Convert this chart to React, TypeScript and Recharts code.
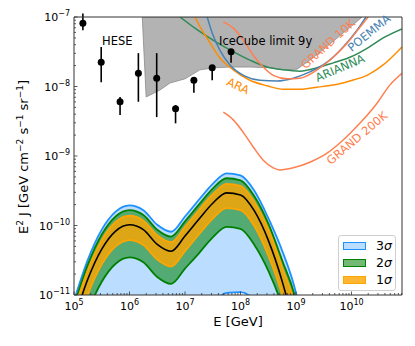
import React from "react";
import {
  ComposedChart,
  XAxis,
  YAxis,
  Area,
  Line,
  Scatter,
  ErrorBar,
  ReferenceLine,
  Legend,
} from "recharts";

// all values are log10: x = log10(E / GeV), y = log10(E^2 J / GeV cm^-2 s^-1 sr^-1)
const X_MIN = 5;
const X_MAX = 10.91;
const Y_MIN = -11;
const Y_MAX = -7;
const X_MAJOR = [5, 6, 7, 8, 9, 10];
const Y_MAJOR = [-11, -10, -9, -8, -7];
const MINOR_MULT = [2, 3, 4, 5, 6, 7, 8, 9];

// fitted model and its bands
const MODEL_LOG_E = [5.0, 5.25, 5.5, 5.75, 6.0, 6.25, 6.5, 6.75, 7.0, 7.25, 7.5, 7.75, 8.0, 8.25, 8.5, 8.75, 9.0, 9.25];
const BEST_FIT = [-11.36, -10.77, -10.34, -10.08, -9.99, -10.06, -10.27, -10.37, -10.15, -9.91, -9.68, -9.53, -9.56, -9.79, -10.21, -10.8, -11.58, -12.7];
const SIG3_HI = [-11.08, -10.49, -10.06, -9.8, -9.71, -9.78, -9.99, -10.09, -9.87, -9.63, -9.4, -9.25, -9.28, -9.5, -9.89, -10.36, -10.97, -12.0];
const SIG3_LO = [-12.8, -12.21, -11.78, -11.52, -11.43, -11.5, -11.71, -11.81, -11.59, -11.35, -11.12, -10.97, -10.96, -11.08, -11.65, -12.24, -13.0, -14.0];
const SIG2_HI = [-11.15, -10.56, -10.13, -9.87, -9.78, -9.85, -10.06, -10.16, -9.94, -9.7, -9.47, -9.32, -9.35, -9.58, -9.97, -10.5, -11.08, -12.2];
const SIG2_LO = [-11.83, -11.24, -10.81, -10.55, -10.46, -10.53, -10.74, -10.84, -10.62, -10.4, -10.17, -10.02, -10.05, -10.28, -10.65, -11.17, -12.08, -13.2];
const SIG1_HI = [-11.23, -10.64, -10.21, -9.95, -9.86, -9.93, -10.14, -10.24, -10.02, -9.78, -9.55, -9.4, -9.43, -9.66, -10.05, -10.6, -11.2, -12.4];
const SIG1_LO = [-11.58, -10.99, -10.56, -10.3, -10.21, -10.28, -10.49, -10.59, -10.37, -10.13, -9.9, -9.75, -9.78, -10.01, -10.43, -11.0, -11.88, -13.0];

// IceCube 9y limit (shaded up to top of plot)
const ICECUBE_LOG_E = [6.23, 6.3, 6.55, 6.73, 7.0, 7.27, 7.54, 7.81, 8.17, 8.53, 8.8, 9.02, 9.25, 9.52, 9.79, 10.06, 10.19];
const ICECUBE_LIMIT = [-7.0, -8.15, -8.05, -7.95, -7.89, -7.76, -7.73, -7.72, -7.72, -7.73, -7.76, -7.75, -7.62, -7.45, -7.27, -7.09, -7.0];

// HESE data points
const HESE_LOG_E = [5.16, 5.49, 5.83, 6.16, 6.49, 6.83, 7.16, 7.49, 7.83];
const HESE_FLUX = [-7.09, -7.65, -8.22, -7.81, -7.88, -8.32, -7.91, -7.73, -7.5];
const HESE_LO = [-7.19, -7.94, -8.41, -8.22, -8.44, -8.53, -8.09, -7.91, -7.66];
const HESE_HI = [-6.95, -7.43, -8.15, -7.52, -7.52, -8.27, -7.91, -7.73, -7.5];

// future experiment sensitivities
const ARA_LOG_E = [7.18, 7.27, 7.45, 7.63, 7.87, 8.17, 8.48, 8.77, 9.07, 9.38, 9.67, 9.97, 10.28, 10.57, 10.91];
const ARA = [-7.0, -7.14, -7.37, -7.59, -7.76, -7.91, -7.99, -8.04, -8.04, -8.01, -7.98, -7.92, -7.84, -7.69, -7.43];
const ARIANNA_LOG_E = [6.91, 7.23, 7.54, 7.85, 8.17, 8.48, 8.77, 9.07, 9.38, 9.67, 9.97, 10.28, 10.57, 10.91];
const ARIANNA = [-7.0, -7.19, -7.35, -7.49, -7.62, -7.72, -7.76, -7.78, -7.73, -7.66, -7.58, -7.45, -7.3, -7.17];
const POEMMA_LOG_E = [7.4, 7.49, 7.63, 7.81, 8.08, 8.35, 8.66, 8.95, 9.25, 9.56, 9.85, 10.1, 10.26];
const POEMMA = [-7.0, -7.23, -7.48, -7.69, -7.85, -7.91, -7.92, -7.88, -7.79, -7.65, -7.43, -7.19, -7.0];
const GRAND10K_LOG_E = [7.69, 7.87, 8.05, 8.23, 8.41, 8.59, 8.84, 9.07, 9.38, 9.67, 9.97, 10.21, 10.3];
const GRAND10K = [-7.07, -7.16, -7.33, -7.55, -7.72, -7.84, -7.89, -7.88, -7.76, -7.58, -7.33, -7.09, -7.0];
const GRAND200K_LOG_E = [7.69, 7.87, 8.05, 8.23, 8.41, 8.59, 8.71, 8.95, 9.25, 9.56, 9.85, 10.15, 10.46, 10.69, 10.91];
const GRAND200K = [-8.37, -8.48, -8.66, -8.87, -9.06, -9.17, -9.2, -9.17, -9.09, -8.96, -8.77, -8.53, -8.24, -7.98, -7.81];

const LEGEND_ITEMS = [
  { n: "3", fill: "rgba(30,144,255,0.3)", edge: "#1e90ff" },
  { n: "2", fill: "rgba(0,128,0,0.55)", edge: "#008000" },
  { n: "1", fill: "rgba(255,165,0,0.8)", edge: "#ffa500" },
];

const pts = (xs: number[], ys: number[]) => xs.map((x, i) => ({ x, y: ys[i] }));
const band = (lo: number[], hi: number[]) => MODEL_LOG_E.map((x, i) => ({ x, y: [lo[i], hi[i]] }));

const iceData = ICECUBE_LOG_E.map((x, i) => ({ x, y: [ICECUBE_LIMIT[i], Y_MAX] }));
const heseData = HESE_LOG_E.map((x, i) => ({
  x,
  y: HESE_FLUX[i],
  err: [HESE_FLUX[i] - HESE_LO[i], HESE_HI[i] - HESE_FLUX[i]],
}));

const isMajor = (v: number) => Math.abs(v - Math.round(v)) < 1e-6;
const xTicks = X_MAJOR.flatMap((n) => [n, ...MINOR_MULT.map((m) => n + Math.log10(m))]).filter((v) => v <= X_MAX + 1e-6);
const yTicks = Y_MAJOR.flatMap((n) => (n === Y_MAX ? [n] : [n, ...MINOR_MULT.map((m) => n + Math.log10(m))]));

const AX = "#333";

const XTick = (props: any) => {
  const { x, y, payload } = props;
  const v = payload.value;
  const major = isMajor(v);
  return (
    <g>
      <line x1={x} x2={x} y1={y} y2={y - (major ? 3.5 : 2)} stroke={AX} strokeWidth={0.8} />
      {major && (
        <text x={x} y={y + 15} textAnchor="middle" fontSize={11} fill="#000">
          10<tspan dy={-5} fontSize={8}>{Math.round(v)}</tspan>
        </text>
      )}
    </g>
  );
};

const YTick = (props: any) => {
  const { x, y, payload } = props;
  const v = payload.value;
  const major = isMajor(v);
  return (
    <g>
      <line x1={x} x2={x + (major ? 3.5 : 2)} y1={y} y2={y} stroke={AX} strokeWidth={0.8} />
      {major && (
        <text x={x - 4} y={y + 4} textAnchor="end" fontSize={11} fill="#000">
          10<tspan dy={-5} fontSize={8}>{"\u2212" + Math.abs(Math.round(v))}</tspan>
        </text>
      )}
    </g>
  );
};

const LegendBox = () => (
  <div
    style={{
      border: "1px solid #cfcfcf",
      borderRadius: 3,
      background: "rgba(255,255,255,0.8)",
      padding: "1px 0 2px 4px",
      width: 58,
      boxSizing: "border-box",
      fontSize: 12.5,
      color: "#000",
    }}
  >
    {LEGEND_ITEMS.map((it) => (
      <div key={it.n} style={{ display: "flex", alignItems: "center", height: 17 }}>
        <span
          style={{
            display: "inline-block",
            width: 23,
            height: 8,
            boxSizing: "border-box",
            border: `1.5px solid ${it.edge}`,
            background: it.fill,
          }}
        />
        <span style={{ marginLeft: 10 }}>
          {it.n}
          <i>σ</i>
        </span>
      </div>
    ))}
  </div>
);

const Note = ({ x, y, angle, color, text }: { x: number; y: number; angle: number; color: string; text: string }) => (
  <text
    x={x}
    y={y}
    transform={`rotate(${angle} ${x} ${y})`}
    textAnchor="middle"
    dominantBaseline="central"
    fontSize={11.5}
    fill={color}
  >
    {text}
  </text>
);

export default function App() {
  return (
    <div style={{ position: "absolute", left: 0, top: 0, width: 415, height: 346, fontFamily: "DejaVu Sans", background: "#fff" }}>
      <ComposedChart width={415} height={346} margin={{ top: 17, right: 13, bottom: 0, left: 0 }}>
        <XAxis
          dataKey="x"
          type="number"
          domain={[X_MIN, X_MAX]}
          allowDataOverflow
          ticks={xTicks}
          interval={0}
          tick={XTick}
          tickLine={false}
          tickSize={0}
          tickMargin={0}
          height={51}
          axisLine={{ stroke: AX, strokeWidth: 1 }}
        />
        <YAxis
          type="number"
          domain={[Y_MIN, Y_MAX]}
          allowDataOverflow
          ticks={yTicks}
          interval={0}
          tick={YTick}
          tickLine={false}
          tickSize={0}
          tickMargin={0}
          width={74}
          axisLine={{ stroke: AX, strokeWidth: 1 }}
        />
        <Area
          data={iceData}
          dataKey="y"
          type="linear"
          fill="#b3b3b3"
          fillOpacity={1}
          stroke="#8a8a8a"
          strokeWidth={0.8}
          isAnimationActive={false}
        />
        <Line data={pts(ARIANNA_LOG_E, ARIANNA)} dataKey="y" type="monotone" stroke="#2e8b57" strokeWidth={1.5} dot={false} isAnimationActive={false} />
        <Line data={pts(ARA_LOG_E, ARA)} dataKey="y" type="monotone" stroke="#ff8c00" strokeWidth={1.5} dot={false} isAnimationActive={false} />
        <Line data={pts(POEMMA_LOG_E, POEMMA)} dataKey="y" type="monotone" stroke="#4682b4" strokeWidth={1.5} dot={false} isAnimationActive={false} />
        <Line data={pts(GRAND10K_LOG_E, GRAND10K)} dataKey="y" type="monotone" stroke="#ff7f50" strokeWidth={1.5} dot={false} isAnimationActive={false} />
        <Line data={pts(GRAND200K_LOG_E, GRAND200K)} dataKey="y" type="monotone" stroke="#ff7f50" strokeWidth={1.5} dot={false} isAnimationActive={false} />
        <Area data={band(SIG3_LO, SIG3_HI)} dataKey="y" type="monotone" fill="#1e90ff" fillOpacity={0.3} stroke="#1e90ff" strokeWidth={1.8} isAnimationActive={false} />
        <Area data={band(SIG2_LO, SIG2_HI)} dataKey="y" type="monotone" fill="#008000" fillOpacity={0.55} stroke="#008000" strokeWidth={1.8} isAnimationActive={false} />
        <Area data={band(SIG1_LO, SIG1_HI)} dataKey="y" type="monotone" fill="#ffa500" fillOpacity={0.8} stroke="#ffa500" strokeWidth={1.8} isAnimationActive={false} />
        <Line data={pts(MODEL_LOG_E, BEST_FIT)} dataKey="y" type="monotone" stroke="#000" strokeWidth={1.6} dot={false} isAnimationActive={false} />
        <Scatter
          data={heseData}
          dataKey="y"
          isAnimationActive={false}
          shape={(p: any) => <circle cx={p.cx} cy={p.cy} r={3.5} fill="#000" />}
        >
          <ErrorBar dataKey="err" direction="y" width={0} stroke="#000" strokeWidth={1.6} />
        </Scatter>
        <ReferenceLine y={Y_MAX} stroke={AX} strokeWidth={1} />
        <ReferenceLine x={X_MAX} stroke={AX} strokeWidth={1} />
        <Legend
          verticalAlign="middle"
          align="center"
          content={() => <LegendBox />}
          wrapperStyle={{ left: 338, top: 235, width: 58 }}
        />
      </ComposedChart>
      <svg width={415} height={346} style={{ position: "absolute", left: 0, top: 0, pointerEvents: "none" }}>
        <text x={238} y={326} textAnchor="middle" fontSize={13} fill="#000">
          E [GeV]
        </text>
        <text x={28} y={157} transform="rotate(-90 28 157)" textAnchor="middle" fontSize={13} fill="#000">
          E<tspan dy={-5} fontSize={9}>2</tspan>
          <tspan dy={5}>{" J [GeV cm"}</tspan>
          <tspan dy={-5} fontSize={9}>{"\u22122"}</tspan>
          <tspan dy={5}>{" s"}</tspan>
          <tspan dy={-5} fontSize={9}>{"\u22121"}</tspan>
          <tspan dy={5}>{" sr"}</tspan>
          <tspan dy={-5} fontSize={9}>{"\u22121"}</tspan>
          <tspan dy={5}>]</tspan>
        </text>
        <text x={102} y={45} fontSize={11.5} fill="#000">HESE</text>
        <text x={219} y={45} fontSize={11.5} fill="#000">IceCube limit 9y</text>
        <Note x={328} y={44} angle={-42} color="#ff7f50" text="GRAND 10K" />
        <Note x={369} y={33} angle={-39} color="#4682b4" text="POEMMA" />
        <Note x={340} y={68} angle={-23} color="#2e8b57" text="ARIANNA" />
        <Note x={238} y={86} angle={25} color="#ff8c00" text="ARA" />
        <Note x={357} y={138} angle={-40} color="#ff7f50" text="GRAND 200K" />
      </svg>
    </div>
  );
}
